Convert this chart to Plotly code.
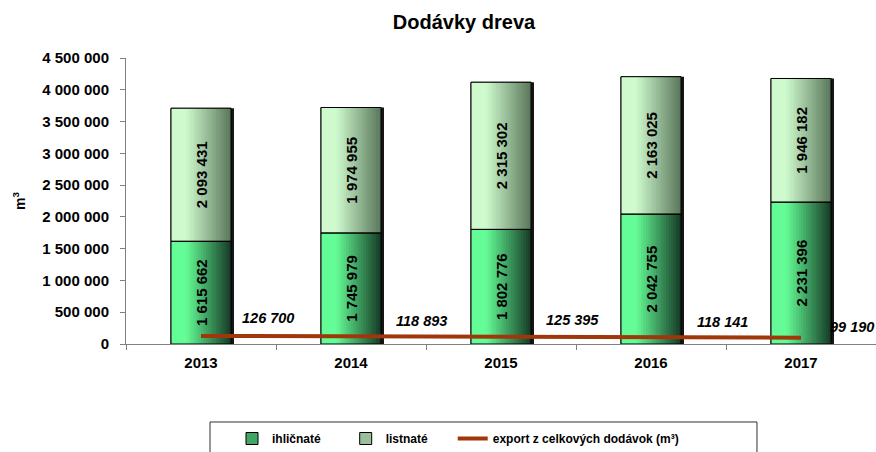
import plotly.graph_objects as go

# ---- data ----
years = ["2013", "2014", "2015", "2016", "2017"]
ihlicnate = [1615662, 1745979, 1802776, 2042755, 2231396]
listnate = [2093431, 1974955, 2315302, 2163025, 1946182]
export = [126700, 118893, 125395, 118141, 99190]
y_ticks = [0, 500000, 1000000, 1500000, 2000000, 2500000, 3000000, 3500000, 4000000, 4500000]

# ---- style ----
FONT = "Liberation Sans, Arial, sans-serif"
BAR_W = 0.4
N_STRIPS = 24
IHL_LIGHT, IHL_DARK = (100, 252, 150), (22, 58, 38)
LIS_LIGHT, LIS_DARK = (206, 250, 206), (90, 118, 90)
LINE_COLOR = "#A0370A"
label_shift_x = [67, 70, 71, 71, 51]
label_shift_y = [18, 15, 16, 14, 11]
NB = "\u00a0"


def lerp(c1, c2, t):
    return "rgb({},{},{})".format(*[int(round(a + (b - a) * t)) for a, b in zip(c1, c2)])


totals = [a + b for a, b in zip(ihlicnate, listnate)]
fig = go.Figure()

# legend carriers (hidden behind strips)
fig.add_trace(go.Bar(x=years, y=ihlicnate, width=BAR_W, name="ihličnaté" + NB * 6,
                     marker=dict(color=lerp(IHL_LIGHT, IHL_DARK, 0.45), line=dict(color="#000", width=1)),
                     legendrank=1, hoverinfo="skip"))
fig.add_trace(go.Bar(x=years, y=listnate, base=ihlicnate, width=BAR_W, name="listnaté" + NB * 6,
                     marker=dict(color=lerp(LIS_LIGHT, LIS_DARK, 0.45), line=dict(color="#000", width=1)),
                     legendrank=2, hoverinfo="skip"))

# shadow
fig.add_trace(go.Bar(x=years, y=totals, width=BAR_W, offset=-BAR_W / 2 + 0.02,
                     marker=dict(color="#151515", line=dict(width=0)),
                     showlegend=False, hoverinfo="skip"))

# gradient strips (overlapping so no seams)
sw = BAR_W / N_STRIPS
for i in range(N_STRIPS):
    t = (i + 0.5) / N_STRIPS
    tt = min(1.0, max(0.0, (t - 0.25) / 0.75))
    off = -BAR_W / 2 + i * sw
    w = min(2.2 * sw, BAR_W / 2 - off)
    fig.add_trace(go.Bar(x=years, y=ihlicnate, width=w, offset=off,
                         marker=dict(color=lerp(IHL_LIGHT, IHL_DARK, tt), line=dict(width=0)),
                         showlegend=False, hoverinfo="skip"))
    fig.add_trace(go.Bar(x=years, y=listnate, base=ihlicnate, width=w, offset=off,
                         marker=dict(color=lerp(LIS_LIGHT, LIS_DARK, tt), line=dict(width=0)),
                         showlegend=False, hoverinfo="skip"))

# outlines + labels
common_txt = dict(texttemplate="%{y:,d}", textposition="inside", insidetextanchor="middle",
                  textangle=-90, textfont=dict(family=FONT, size=15, color="#000", weight="bold"),
                  constraintext="none")
fig.add_trace(go.Bar(x=years, y=ihlicnate, width=BAR_W, offset=-BAR_W / 2,
                     marker=dict(color="rgba(0,0,0,0)", line=dict(color="#000", width=1)),
                     showlegend=False, **common_txt))
fig.add_trace(go.Bar(x=years, y=listnate, base=ihlicnate, width=BAR_W, offset=-BAR_W / 2,
                     marker=dict(color="rgba(0,0,0,0)", line=dict(color="#000", width=1)),
                     showlegend=False, **common_txt))

# export line
fig.add_trace(go.Scatter(x=years, y=export, mode="lines", name="export z celkových dodávok (m³)",
                         line=dict(color=LINE_COLOR, width=4), legendrank=3))

for i, v in enumerate(export):
    fig.add_annotation(x=i, y=v, text=f"{v:,}".replace(",", " "), showarrow=False,
                       xshift=label_shift_x[i], yshift=label_shift_y[i],
                       font=dict(family=FONT, size=14.5, color="#000", weight="bold", style="italic"))

# legend frame
fig.add_shape(type="rect", xref="paper", yref="paper", x0=0.112, x1=0.8413, y0=-0.2727, y1=-0.42,
              line=dict(color="#303030", width=1), fillcolor="rgba(0,0,0,0)", layer="above")

fig.update_layout(
    width=876, height=452,
    margin=dict(l=126, r=0, t=58, b=108),
    paper_bgcolor="white", plot_bgcolor="white",
    barmode="overlay",
    separators=". ",
    font=dict(family=FONT, size=12, color="#000"),
    title=dict(text="<b>Dodávky dreva</b>", x=464 / 876, xanchor="center", xref="container",
               y=1 - 22 / 452, yanchor="middle", yref="container",
               font=dict(family=FONT, size=20, color="#000")),
    xaxis=dict(type="category", range=[-0.5, 4.5], tickson="boundaries", ticks="outside", ticklen=5,
               tickcolor="#808080", showline=True, linecolor="#808080", linewidth=1, showgrid=False,
               ticklabelstandoff=5,
               tickfont=dict(family=FONT, size=15, color="#000", weight="bold")),
    yaxis=dict(range=[0, 4500000], tickvals=y_ticks, tickformat=",d", ticks="outside", ticklen=5,
               tickcolor="#808080", showline=True, linecolor="#808080", linewidth=1,
               showgrid=False, zeroline=False, ticklabelstandoff=8,
               tickfont=dict(family=FONT, size=15, color="#000", weight="bold"),
               title=dict(text="<b>m<sup>3</sup></b>", font=dict(family=FONT, size=14, color="#000"),
                          standoff=13)),
    legend=dict(orientation="h", xref="container", yref="container", x=232 / 876, xanchor="left",
                y=1 - 424 / 452, yanchor="top", borderwidth=0, bgcolor="rgba(0,0,0,0)",
                font=dict(family=FONT, size=12, color="#000", weight="bold"),
                traceorder="normal"),
    showlegend=True,
)

fig.write_html("out.html", config={"displayModeBar": False},
               post_script="document.body.style.margin='0px';document.body.style.overflow='hidden';")
